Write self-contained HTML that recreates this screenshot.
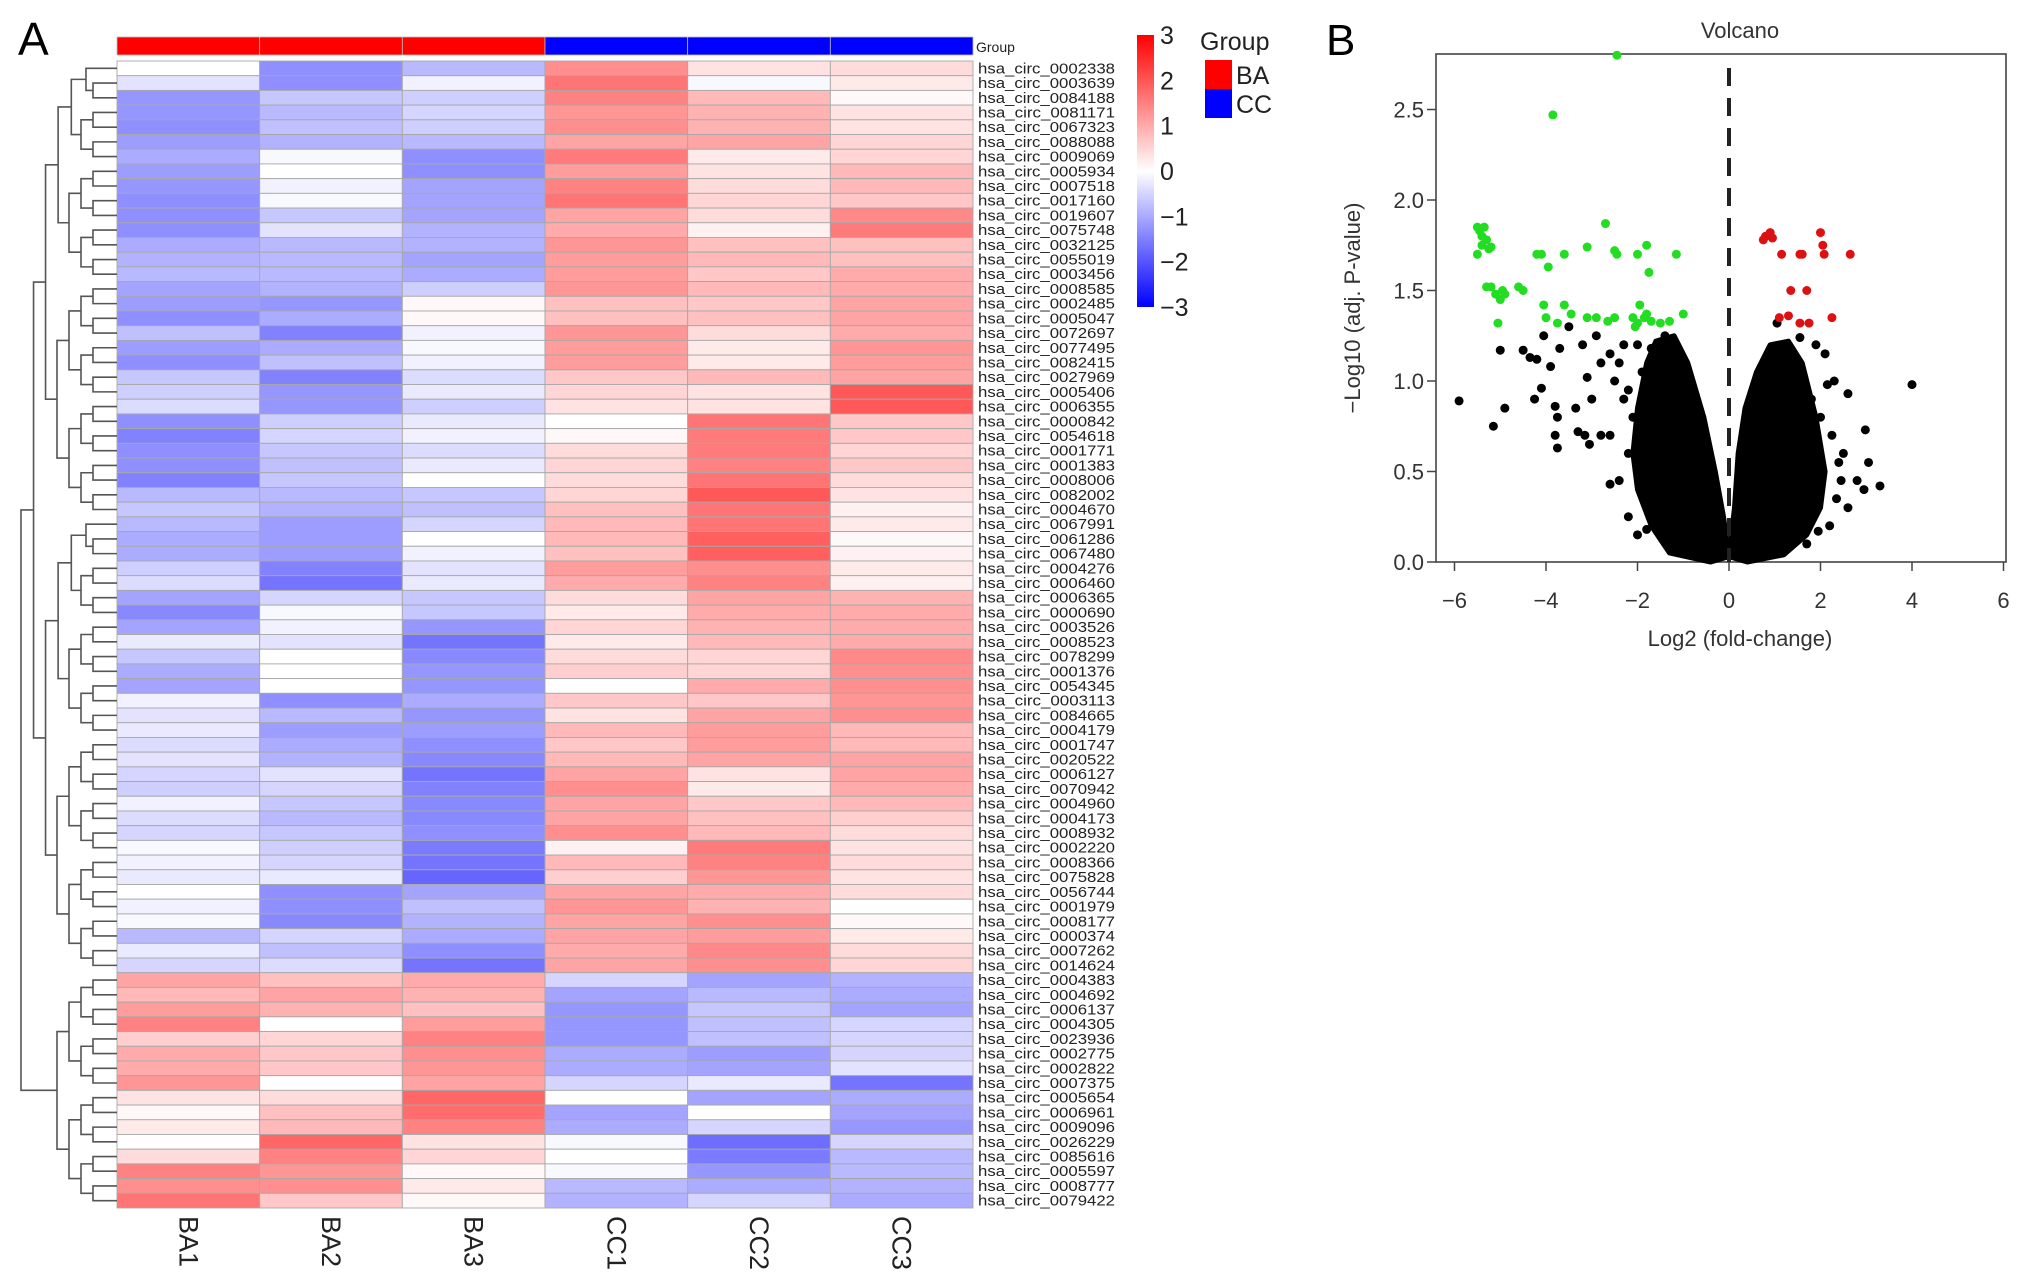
<!DOCTYPE html>
<html><head><meta charset="utf-8"><style>
body{margin:0;background:#fff;}
svg{display:block;font-family:"Liberation Sans",sans-serif;}
</style></head><body>
<svg id="fig" width="2032" height="1276" viewBox="0 0 2032 1276" xmlns="http://www.w3.org/2000/svg">
<text x="18" y="55" font-size="46">A</text>
<text x="1326" y="55" font-size="44">B</text>
<g id="heat"></g>
<g id="dendro"></g>
<g id="volc"></g>
</svg>
<script>
const columns=["BA1","BA2","BA3","CC1","CC2","CC3"];
const groups=["BA","BA","BA","CC","CC","CC"];
const rowNames=["0002338","0003639","0084188","0081171","0067323","0088088","0009069","0005934","0007518","0017160","0019607","0075748","0032125","0055019","0003456","0008585","0002485","0005047","0072697","0077495","0082415","0027969","0005406","0006355","0000842","0054618","0001771","0001383","0008006","0082002","0004670","0067991","0061286","0067480","0004276","0006460","0006365","0000690","0003526","0008523","0078299","0001376","0054345","0003113","0084665","0004179","0001747","0020522","0006127","0070942","0004960","0004173","0008932","0002220","0008366","0075828","0056744","0001979","0008177","0000374","0007262","0014624","0004383","0004692","0006137","0004305","0023936","0002775","0002822","0007375","0005654","0006961","0009096","0026229","0085616","0005597","0008777","0079422"];
const values=[
[0,-1.6,-1,1.6,0.4,0.5],[-0.4,-1.6,-0.2,2,-0.1,0.3],[-1.5,-0.8,-0.7,1.8,1,0.1],[-1.5,-1,-0.6,1.5,1.1,0.4],[-1.6,-0.9,-0.7,1.6,1.1,0.4],[-1.4,-1.1,-1,1.3,1.3,0.6],[-1.2,-0.1,-1.6,1.9,0.3,0.6],[-1.4,0,-1.6,1.4,0.4,1],[-1.5,-0.2,-1.3,1.8,0.5,1],[-1.6,-0.1,-1.3,2,0.6,0.8],[-1.6,-0.8,-1.3,1.3,0.5,1.7],[-1.6,-0.4,-1.1,1.2,0.2,1.9],[-1.2,-1,-1.1,1.5,0.9,0.9],[-1.1,-1,-1.3,1.4,1,0.9],[-1,-1,-1.2,1.4,0.8,1.2],[-1.3,-1.1,-0.7,1.5,1,1.2],[-1.4,-1.5,0.1,0.9,0.8,1.3],[-1.6,-1.2,0.1,0.9,0.9,1.3],
[-0.9,-1.8,-0.2,1.5,0.5,1.2],[-1.4,-1.2,-0.1,1.4,0.3,1.5],[-1.6,-0.9,-0.2,1.4,0.3,1.4],[-0.8,-1.8,-0.5,0.8,1,1.3],[-0.7,-1.5,-0.3,0.6,0.4,2.4],[-0.5,-1.5,-0.7,0.4,0.4,2.4],[-1.6,-0.7,-0.3,0,2,0.8],[-1.8,-0.6,-0.2,0.1,1.9,0.8],[-1.6,-0.8,-0.5,0.5,1.9,0.6],[-1.6,-0.9,-0.3,0.6,1.8,0.8],[-1.8,-0.8,0,0.5,2,0.5],[-1,-1,-0.8,0.6,2.4,0.4],[-0.8,-1.1,-0.9,0.9,2,0.2],[-1,-1.4,-0.6,1,2,0.3],[-1.2,-1.4,0,1,2.3,0.1],[-1.2,-1.4,-0.2,0.9,2.3,0.2],[-0.7,-1.8,-0.4,1.4,1.6,0.3],[-0.5,-2,-0.3,1.2,1.8,0.2],[-1.3,-0.6,-0.8,0.5,1.3,1.1],[-1.7,-0.1,-0.8,0.3,1.2,1.2],[-1.3,-0.2,-1.5,0.6,1.1,1.2],
[-0.3,-0.4,-2,0.3,1,1.2],[-0.8,0,-1.7,0.5,0.6,1.7],[-1.2,0,-1.5,0.7,0.6,1.6],[-1.3,0,-1.5,0,1.2,1.6],[-0.2,-1.6,-1.2,0.8,0.8,1.5],[-0.4,-1,-1.5,0.4,1.3,1.6],[-0.3,-1.4,-1.4,1,1.4,1],[-0.5,-1.2,-1.6,0.8,1.4,1],[-0.4,-1.1,-1.7,1,1.3,1.3],[-0.6,-0.4,-2,1.3,0.4,1.3],[-0.7,-0.6,-1.8,1.6,0.3,1.2],[-0.2,-0.8,-1.7,1.3,0.8,1],[-0.5,-1,-1.7,1.3,0.9,0.7],[-0.6,-0.8,-1.6,1.6,1,0.5],[-0.1,-0.7,-1.9,0.2,1.9,0.4],[-0.2,-0.6,-2,1,1.8,0.5],[-0.3,-0.3,-2.2,0.7,1.5,0.4],[0,-1.6,-1.3,1.3,1.2,0.5],[-0.2,-1.6,-0.9,1.5,1.1,0],[-0.1,-1.7,-1.1,1.3,1.6,0.1],[-1,-0.6,-1.2,1.3,1.4,0.3],[-0.3,-0.9,-1.6,1.2,1.7,0.5],[-0.6,-0.5,-2,1.3,1.6,0.6],
[1.3,0.9,1.2,-0.6,-1.3,-1.1],[1,1.3,1.1,-1.3,-1,-1.2],[1.4,1.1,0.9,-1.5,-0.8,-1.3],[1.8,0,1.4,-1.5,-0.9,-0.6],[0.7,0.6,1.8,-1.5,-0.9,-0.6],[1.2,0.8,1.6,-1.2,-1.4,-0.6],[1.2,0.8,1.5,-1.2,-1.3,-0.4],[1.5,0,1.3,-0.6,-0.3,-2],[0.4,0.5,2.2,0,-1.3,-1.2],[0.1,0.9,2.1,-1.3,0,-1.3],[0.3,1,1.8,-1.2,-0.6,-1.5],[0,2.2,0.4,-0.1,-2.1,-0.6],[0.5,1.8,0.6,0,-1.9,-1],[1.8,1.5,0.1,-0.1,-1.5,-1],[1.6,1.6,0.3,-1,-1.2,-1.1],[2,0.8,0.1,-1.1,-0.6,-1.2]];
const colorTicks=[3,2,1,0,-1,-2,-3];
// volcano data
const volcXTicks=[-6,-4,-2,0,2,4,6];
const volcYTicks=[0,0.5,1,1.5,2,2.5];
const downX=[-5.5,-5.45,-5.4,-5.35,-5.4,-5.3,-5.25,-5.2,-5.5,-5.3,-5.2,-5.1,-5,-4.95,-4.9,-5.05,-4.6,-4.5,-4.2,-4.1,-3.95,-3.6,-3.1,-2.7,-2.5,-2.45,-2,-1.8,-1.75,-1.15,-3.85,-2.45,-4,-3.75,-3.6,-3.45,-3.1,-2.9,-2.65,-2.5,-2.1,-2,-1.95,-1.85,-1.7,-1.5,-1.3,-1,-2.05,-1.8,-4.05];
const downY=[1.85,1.83,1.8,1.85,1.75,1.78,1.73,1.74,1.7,1.52,1.52,1.48,1.45,1.5,1.48,1.32,1.52,1.5,1.7,1.7,1.63,1.7,1.74,1.87,1.72,1.7,1.7,1.75,1.6,1.7,2.47,2.8,1.35,1.32,1.42,1.37,1.35,1.35,1.33,1.35,1.35,1.32,1.42,1.35,1.33,1.32,1.33,1.37,1.3,1.37,1.42];
const upX=[0.75,0.8,0.9,0.95,2,2.05,2.08,1.15,1.55,1.6,2.65,1.35,1.7,1.1,1.3,1.55,1.75,2.25];
const upY=[1.78,1.8,1.82,1.79,1.82,1.75,1.7,1.7,1.7,1.7,1.7,1.5,1.5,1.35,1.36,1.32,1.32,1.35];
const nsX=[-5.9,-5.15,-4.9,-5,-4.5,-4.35,-4.2,-4.05,-4.1,-4.25,-3.8,-3.75,-3.8,-3.75,-3.9,-3.7,-3.5,-3.35,-3.3,-3.15,-3.05,-2.8,-2.6,-2.4,-3.1,-3,-2.8,-2.6,-2.5,-2.3,-2.1,-3.2,-2.9,-2.2,-2,-1.8,4,3.3,3.05,2.95,2.98,2.6,2.3,2.15,2.5,2.45,2.35,2.2,1.95,1.7,2.1,1.9,1.55,1.05,1,2.25,2,-1.4,-1.2,-2.3,-2,-1.7,-1.6,-2.4,-2.2,-1.9,-2.6,-2.2,1.2,1.4,1.8,2.4,2.6,2.8];
const nsY=[0.89,0.75,0.85,1.17,1.17,1.13,1.12,1.25,0.96,0.9,0.86,0.8,0.7,0.63,1.08,1.18,1.3,0.85,0.72,0.7,0.65,0.7,0.43,0.45,1.02,0.9,1.1,1.15,1,0.9,0.8,1.2,1.25,0.25,0.15,0.18,0.98,0.42,0.55,0.4,0.73,0.93,1,0.98,0.6,0.45,0.35,0.2,0.17,0.1,1.15,1.2,1.24,1.32,1.1,0.7,0.8,1.25,1.2,1.2,1.2,1.18,1.1,1.1,0.95,1.05,0.7,0.6,1.2,1.1,0.9,0.55,0.3,0.45];
const leftLobeX=[0,-0.4,-1.3,-1.7,-2.0,-2.1,-2.0,-1.8,-1.6,-1.2,-0.9,-0.55,-0.3,-0.12];
const leftLobeY=[0.03,0,0.05,0.2,0.4,0.6,0.85,1.1,1.22,1.25,1.1,0.8,0.5,0.25];
const rightLobeX=[0,0.12,0.2,0.35,0.6,0.9,1.3,1.6,1.9,2.1,2.0,1.7,1.2,0.4];
const rightLobeY=[0.03,0.3,0.6,0.85,1.05,1.2,1.22,1.1,0.8,0.5,0.3,0.15,0.04,0];

const NS="http://www.w3.org/2000/svg";
function mk(tag,attrs,parent){const e=document.createElementNS(NS,tag);for(const k in attrs)e.setAttribute(k,attrs[k]);parent.appendChild(e);return e;}
function col(v){const t=Math.max(-1,Math.min(1,v/3))*0.82;let r,g,b;if(t>=0){r=255;g=b=Math.round(255*(1-t));}else{b=255;r=g=Math.round(255*(1+t));}return `rgb(${r},${g},${b})`;}

// heatmap
const heat=document.getElementById('heat');
const hx0=117,hx1=973,hy0=61,hy1=1208;
const cw=(hx1-hx0)/columns.length, rh=(hy1-hy0)/rowNames.length;
const xCol=i=>hx0+i*cw, yRow=j=>hy0+j*rh;
columns.forEach((c,i)=>{
  const g=mk('rect',{x:xCol(i),y:37,width:cw,height:18,fill:groups[i]==='BA'?'#ff0000':'#0000ff',stroke:'#bbb','stroke-width':0.8},heat);
  
  
  const t=mk('text',{x:xCol(i)+cw/2,y:1216,'font-size':27,fill:'#222','dominant-baseline':'central',transform:`rotate(90 ${xCol(i)+cw/2} 1216)`},heat);
  t.textContent=c;
  
  
});
const gl=mk('text',{x:976,y:52,'font-size':14,fill:'#222'},heat);gl.textContent='Group';


rowNames.forEach((n,j)=>{
  values[j].forEach((v,i)=>{
    const r=mk('rect',{x:xCol(i),y:yRow(j),width:cw,height:rh,fill:col(v),stroke:'#a8a8a8','stroke-width':0.9},heat);
    
    
  });
  const t=mk('text',{x:978,y:yRow(j)+rh/2+5,'font-size':14.5,fill:'#222',textLength:137,lengthAdjust:'spacingAndGlyphs'},heat);
  t.textContent='hsa_circ_'+n;
  
  
});
// color scale
const defs=mk('defs',{},heat);
const lg=mk('linearGradient',{id:'cs',x1:0,y1:0,x2:0,y2:1},defs);
[[0,'#ff0000'],[0.5,'#ffffff'],[1,'#0000ff']].forEach(s=>mk('stop',{offset:s[0],'stop-color':s[1]},lg));
const cb=mk('rect',{x:1137,y:35,width:17,height:272,fill:'url(#cs)'},heat);


colorTicks.forEach(v=>{
  const y=35+(3-v)/6*272;
  const t=mk('text',{x:1160,y:y+9,'font-size':25,fill:'#222'},heat);
  t.textContent=v<0?'\u2212'+(-v):String(v);
  
  
});
const lgT=mk('text',{x:1200,y:50,'font-size':25,fill:'#222'},heat);lgT.textContent='Group';


[['BA','#ff0000',60],['CC','#0000ff',89]].forEach(l=>{
  const r=mk('rect',{x:1205,y:l[2],width:27,height:29,fill:l[1]},heat);
  
  
  const t=mk('text',{x:1236,y:l[2]+24,'font-size':25,fill:'#222'},heat);t.textContent=l[0];
  
  
});

// dendrogram (schematic)
const den=document.getElementById('dendro');
function tree(lo,hi){
  if(hi-lo===1) return {x:hx0,y:yRow(lo)+rh/2};
  let mid;
  if(lo===0&&hi===78) mid=62; else mid=Math.floor((lo+hi)/2);
  const a=tree(lo,mid),b=tree(mid,hi);
  const size=hi-lo;
  const x=(lo===0&&hi===78)?21:hx0-12-Math.log2(size)*12;
  const p=mk('path',{d:`M${a.x},${a.y}H${x}V${b.y}H${b.x}`,fill:'none',stroke:'#555','stroke-width':1.6},den);
  
  
  return {x:x,y:(a.y+b.y)/2};
}
tree(0,78);

// volcano
const vol=document.getElementById('volc');
const px0=1436,px1=2006,py0=54,py1=562;
const sx=v=>1729+v*45.75, sy=v=>562-v*181;
const frame=mk('rect',{x:px0,y:py0,width:px1-px0,height:py1-py0,fill:'none',stroke:'#444','stroke-width':1.6},vol);


const tt=mk('text',{x:1740,y:38,'font-size':22,fill:'#333','text-anchor':'middle'},vol);tt.textContent='Volcano';


volcXTicks.forEach(v=>{
  mk('line',{x1:sx(v),x2:sx(v),y1:py1,y2:py1+9,stroke:'#444','stroke-width':1.5},vol);
  const t=mk('text',{x:sx(v),y:608,'font-size':22,fill:'#333','text-anchor':'middle'},vol);
  t.textContent=v<0?'\u2212'+(-v):String(v);
  
  
});
volcYTicks.forEach(v=>{
  mk('line',{x1:px0,x2:px0-9,y1:sy(v),y2:sy(v),stroke:'#444','stroke-width':1.5},vol);
  const t=mk('text',{x:1424,y:sy(v)+8,'font-size':22,fill:'#333','text-anchor':'end'},vol);
  t.textContent=v.toFixed(1);
  
  
});
const xt=mk('text',{x:1740,y:646,'font-size':22,fill:'#333','text-anchor':'middle'},vol);xt.textContent='Log2 (fold-change)';


const yt=mk('text',{x:1360,y:308,'font-size':22,fill:'#333','text-anchor':'middle',transform:'rotate(-90 1360 308)'},vol);yt.textContent='\u2212Log10 (adj. P-value)';


[[leftLobeX,leftLobeY],[rightLobeX,rightLobeY]].forEach((l,k)=>{
  const pts=l[0].map((x,i)=>sx(x)+','+sy(l[1][i])).join(' ');
  const p=mk('polygon',{points:pts,fill:'#000',stroke:'#000','stroke-width':5,'stroke-linejoin':'round'},vol);
  
  
});
function dots(xs,ys,c,name){xs.forEach((x,i)=>{const d=mk('circle',{cx:sx(x),cy:sy(ys[i]),r:4.5,fill:c},vol);
  
  });}
dots(nsX,nsY,'#000','point-not-significant');
dots(downX,downY,'#22dd22','point-downregulated');
dots(upX,upY,'#dd1111','point-upregulated');
const zl=mk('line',{x1:sx(0),x2:sx(0),y1:py0+14,y2:py1,stroke:'#222','stroke-width':4,'stroke-dasharray':'18,12'},vol);


</script>
</body></html>
